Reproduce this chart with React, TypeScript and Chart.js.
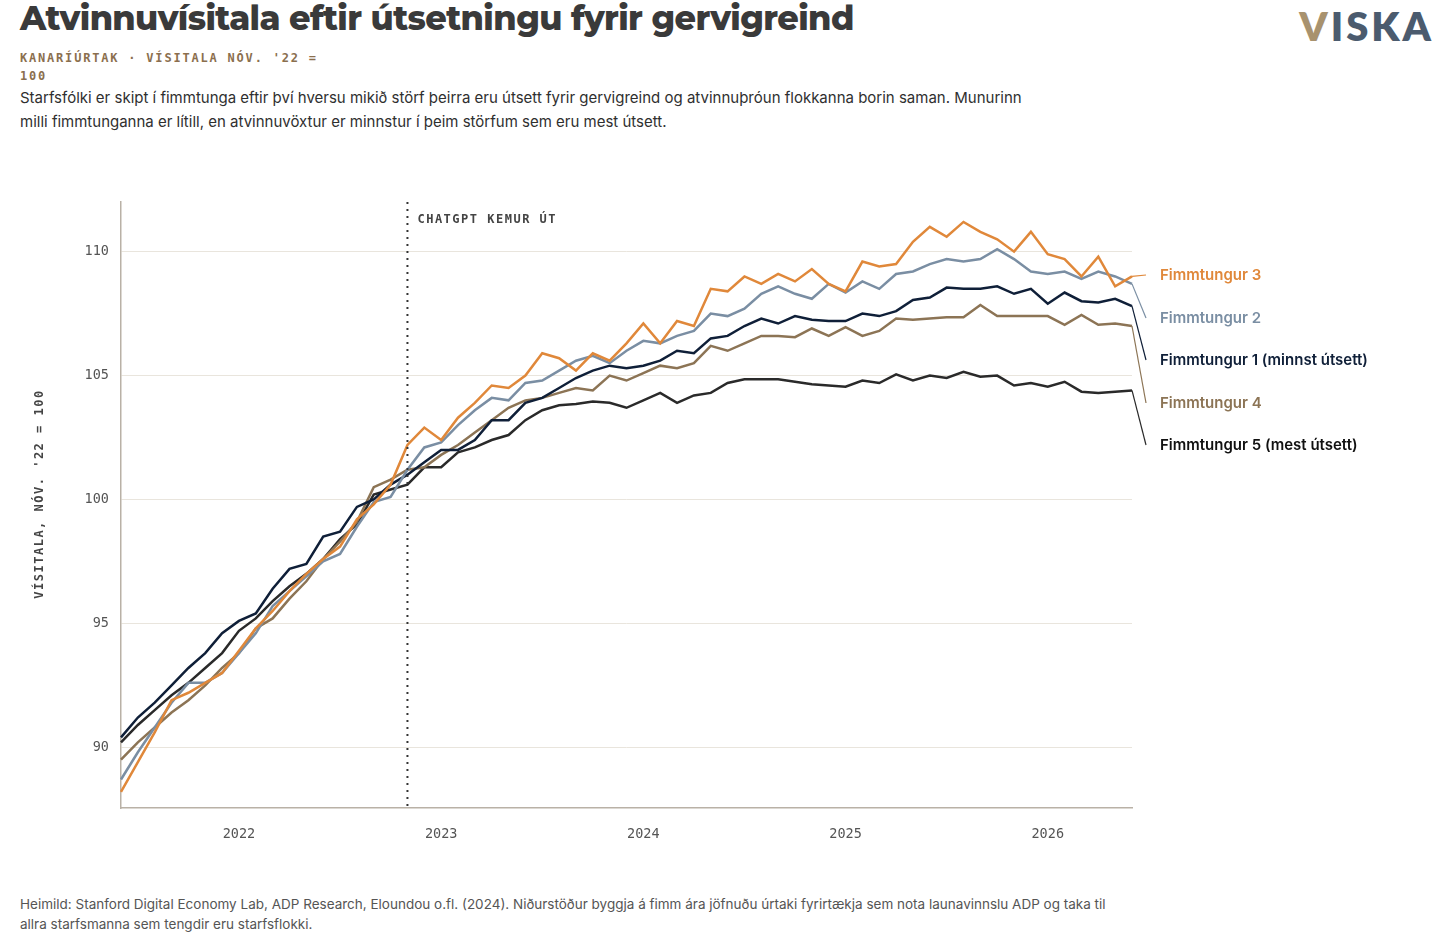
import React, { useEffect, useRef } from "react";
import { Chart, registerables } from "chart.js";
Chart.register(...registerables);

const months: string[] = [];
for (let i = 0; i < 61; i++) {
  const m = (5 + i) % 12;
  const y = 2021 + Math.floor((5 + i) / 12);
  months.push(`${y}-${String(m + 1).padStart(2, "0")}`);
}
const q3 = [88.2, 89.4, 90.6, 91.9, 92.2, 92.6, 93.0, 93.9, 94.8, 95.5, 96.3, 97.0, 97.6, 98.1, 99.2, 99.8, 100.6, 102.2, 102.9, 102.4, 103.3, 103.9, 104.6, 104.5, 105.0, 105.9, 105.7, 105.2, 105.9, 105.6, 106.3, 107.1, 106.3, 107.2, 107.0, 108.5, 108.4, 109.0, 108.7, 109.1, 108.8, 109.3, 108.7, 108.4, 109.6, 109.4, 109.5, 110.4, 111.0, 110.6, 111.2, 110.8, 110.5, 110.0, 110.8, 109.9, 109.7, 109.0, 109.8, 108.6, 109.0];
const q2 = [88.7, 89.8, 90.8, 91.8, 92.6, 92.6, 93.0, 93.8, 94.6, 95.7, 96.3, 96.9, 97.5, 97.8, 98.9, 99.9, 100.1, 101.2, 102.1, 102.3, 103.0, 103.6, 104.1, 104.0, 104.7, 104.8, 105.2, 105.6, 105.8, 105.5, 106.0, 106.4, 106.3, 106.6, 106.8, 107.5, 107.4, 107.7, 108.3, 108.6, 108.3, 108.1, 108.7, 108.35, 108.8, 108.5, 109.1, 109.2, 109.5, 109.7, 109.6, 109.7, 110.1, 109.7, 109.2, 109.1, 109.2, 108.9, 109.2, 109.0, 108.7];
const q1 = [90.4, 91.2, 91.8, 92.5, 93.2, 93.8, 94.6, 95.1, 95.4, 96.4, 97.2, 97.4, 98.5, 98.7, 99.7, 100.0, 100.6, 101.0, 101.5, 102.0, 102.0, 102.4, 103.2, 103.2, 103.9, 104.1, 104.5, 104.9, 105.2, 105.4, 105.3, 105.4, 105.6, 106.0, 105.9, 106.5, 106.6, 107.0, 107.3, 107.1, 107.4, 107.25, 107.2, 107.2, 107.5, 107.4, 107.6, 108.05, 108.15, 108.55, 108.5, 108.5, 108.6, 108.3, 108.5, 107.9, 108.35, 108.0, 107.95, 108.1, 107.8];
const q4 = [89.5, 90.2, 90.8, 91.4, 91.9, 92.5, 93.2, 93.8, 94.8, 95.2, 96.0, 96.7, 97.6, 98.3, 99.1, 100.5, 100.8, 101.2, 101.3, 101.8, 102.2, 102.7, 103.2, 103.7, 104.0, 104.1, 104.3, 104.5, 104.4, 105.0, 104.8, 105.1, 105.4, 105.3, 105.5, 106.2, 106.0, 106.3, 106.6, 106.6, 106.55, 106.9, 106.6, 106.95, 106.6, 106.8, 107.3, 107.25, 107.3, 107.35, 107.35, 107.85, 107.4, 107.4, 107.4, 107.4, 107.05, 107.45, 107.05, 107.1, 107.0];
const q5 = [90.2, 90.9, 91.5, 92.1, 92.6, 93.2, 93.8, 94.7, 95.2, 95.9, 96.5, 97.0, 97.6, 98.4, 99.0, 100.2, 100.4, 100.6, 101.3, 101.3, 101.9, 102.1, 102.4, 102.6, 103.2, 103.6, 103.8, 103.85, 103.95, 103.9, 103.7, 104.0, 104.3, 103.9, 104.2, 104.3, 104.7, 104.85, 104.85, 104.85, 104.75, 104.65, 104.6, 104.55, 104.8, 104.7, 105.05, 104.8, 105.0, 104.9, 105.15, 104.95, 105.0, 104.6, 104.7, 104.55, 104.75, 104.35, 104.3, 104.35, 104.4];
const yTicks = [90, 95, 100, 105, 110];
const seriesNames = ["Fimmtungur 3", "Fimmtungur 2", "Fimmtungur 1 (minnst útsett)", "Fimmtungur 4", "Fimmtungur 5 (mest útsett)"];
const seriesColors = ["#e0883a", "#7a8ea3", "#0f1f38", "#8c7455", "#2a2a2a"];
const labelColors = ["#e0883a", "#7a8ea3", "#0f1f38", "#8c7455", "#111111"];
const labelYs = [93, 136, 178, 221, 263];
const chatgptMonth = "2022-11";

const MONO = "'DejaVu Sans Mono', 'Liberation Mono', monospace";
const SANS = "Inter, 'Noto Sans', sans-serif";

const overlay = {
  id: "overlay",
  afterDatasetsDraw(chart: any) {
    const ctx = chart.ctx;
    const { top, bottom } = chart.chartArea;
    const xs = chart.scales.x;
    const ys = chart.scales.y;
    const cx = xs.getPixelForValue(months.indexOf(chatgptMonth));
    ctx.save();
    ctx.strokeStyle = "#333";
    ctx.lineWidth = 2;
    ctx.setLineDash([2, 5]);
    ctx.beginPath();
    ctx.moveTo(cx, top);
    ctx.lineTo(cx, bottom);
    ctx.stroke();
    ctx.setLineDash([]);
    ctx.fillStyle = "#444";
    ctx.font = `bold 12px ${MONO}`;
    (ctx as any).letterSpacing = "1.5px";
    ctx.textBaseline = "middle";
    ctx.fillText("CHATGPT KEMUR ÚT", cx + 10, top + 18);
    ctx.save();
    ctx.translate(40, 312);
    ctx.rotate(-Math.PI / 2);
    ctx.textAlign = "center";
    ctx.fillStyle = "#444";
    ctx.font = `bold 12px ${MONO}`;
    ctx.fillText("VÍSITALA, NÓV. '22 = 100", 0, 0);
    ctx.restore();
    (ctx as any).letterSpacing = "0px";
    chart.data.datasets.forEach((ds: any, i: number) => {
      const last = ds.data.length - 1;
      const px = xs.getPixelForValue(last);
      const py = ys.getPixelForValue(ds.data[last]);
      ctx.strokeStyle = seriesColors[i];
      ctx.lineWidth = 1.2;
      ctx.beginPath();
      ctx.moveTo(px, py);
      ctx.lineTo(px + 14, labelYs[i]);
      ctx.stroke();
      ctx.fillStyle = labelColors[i];
      ctx.font = `600 15px ${SANS}`;
      ctx.textAlign = "left";
      ctx.textBaseline = "middle";
      ctx.fillText(seriesNames[i], px + 28, labelYs[i]);
    });
    ctx.restore();
  },
};

export default function App() {
  const ref = useRef<HTMLCanvasElement>(null);
  useEffect(() => {
    const data = [q3, q2, q1, q4, q5];
    const chart = new Chart(ref.current!, {
      type: "line",
      data: {
        labels: months,
        datasets: data.map((d, i) => ({
          label: seriesNames[i],
          data: d,
          borderColor: seriesColors[i],
          borderWidth: 2.5,
          pointRadius: 0,
          tension: 0,
        })),
      },
      options: {
        animation: false,
        responsive: false,
        layout: { padding: { top: 4, right: 324, left: 0, bottom: 0 } },
        plugins: { legend: { display: false }, tooltip: { enabled: false } },
        scales: {
          x: {
            offset: false,
            grid: { display: false },
            border: { color: "#b9b1a6", width: 1.5 },
            afterFit: (s: any) => { s.height = 54; },
            ticks: {
              autoSkip: false,
              maxRotation: 0,
              color: "#555",
              font: { family: MONO, size: 13.5 },
              padding: 10,
              callback: (_v: any, i: number) => (months[i].endsWith("-01") ? months[i].slice(0, 4) : null),
            },
          },
          y: {
            min: 87.55,
            max: 112,
            afterFit: (s: any) => { s.width = 121; },
            afterBuildTicks: (s: any) => { s.ticks = yTicks.map((v) => ({ value: v })); },
            grid: { color: "#e9e5dd", lineWidth: 1, drawTicks: false },
            border: { color: "#b9b1a6", width: 1.5 },
            ticks: { color: "#555", font: { family: MONO, size: 13.5 }, padding: 12 },
          },
        },
      },
      plugins: [overlay],
    });
    return () => chart.destroy();
  }, []);
  return (
    <div style={{ position: "absolute", left: 0, top: 0, width: 1456, height: 950, background: "#fff", fontFamily: SANS }}>
      <div style={{ position: "absolute", left: 20, top: -2, fontSize: 33.5, fontWeight: 800, color: "#3a3a3a", fontFamily: "Montserrat, Inter, sans-serif", letterSpacing: -0.6 }}>
        Atvinnuvísitala eftir útsetningu fyrir gervigreind
      </div>
      <div style={{ position: "absolute", right: 22, top: 2, fontSize: 40, fontWeight: 800, color: "#4b5b6e", letterSpacing: 3, fontFamily: "Lato, sans-serif" }}>
        <span style={{ color: "#a8926e" }}>V</span>ISKA
      </div>
      <div style={{ position: "absolute", left: 20, top: 49, width: 310, fontFamily: MONO, fontWeight: 700, fontSize: 12, lineHeight: "18px", letterSpacing: 1.8, color: "#8b6f4e" }}>
        KANARÍÚRTAK · VÍSITALA NÓV. '22 = 100
      </div>
      <div style={{ position: "absolute", left: 20, top: 86, width: 1015, fontSize: 15, lineHeight: "24px", color: "#2f2f2f" }}>
        Starfsfólki er skipt í fimmtunga eftir því hversu mikið störf þeirra eru útsett fyrir gervigreind og atvinnuþróun flokkanna borin saman. Munurinn milli fimmtunganna er lítill, en atvinnuvöxtur er minnstur í þeim störfum sem eru mest útsett.
      </div>
      <canvas ref={ref} width={1456} height={680} style={{ position: "absolute", left: 0, top: 182, width: 1456, height: 680 }} />
      <div style={{ position: "absolute", left: 20, top: 894, width: 1100, fontSize: 13.5, lineHeight: "20px", color: "#555" }}>
        Heimild: Stanford Digital Economy Lab, ADP Research, Eloundou o.fl. (2024). Niðurstöður byggja á fimm ára jöfnuðu úrtaki fyrirtækja sem nota launavinnslu ADP og taka til allra starfsmanna sem tengdir eru starfsflokki.
      </div>
    </div>
  );
}
